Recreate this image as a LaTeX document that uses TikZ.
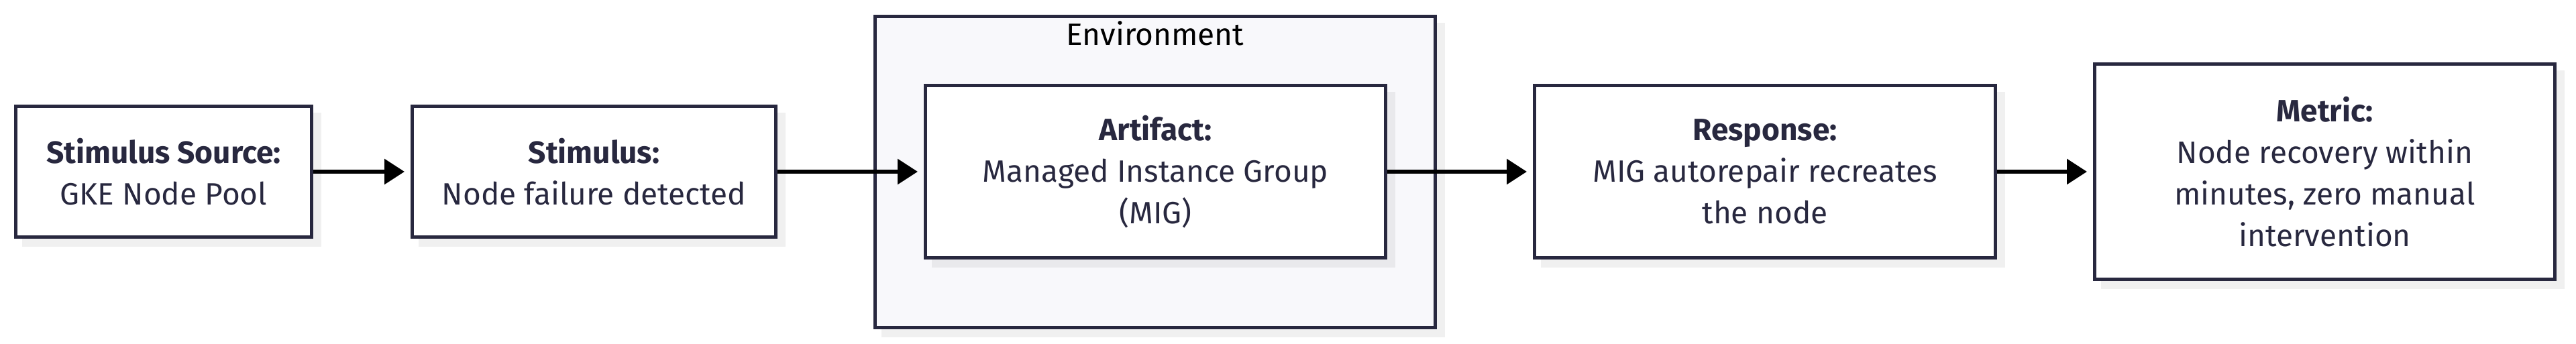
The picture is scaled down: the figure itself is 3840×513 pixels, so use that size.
\documentclass[tikz,border=0pt]{standalone}
\usepackage{fontspec}
\setmainfont{Fira Sans}
\usetikzlibrary{arrows.meta}
\definecolor{boxline}{HTML}{28283F}
\definecolor{boxtext}{HTML}{28283F}
\definecolor{envfill}{HTML}{F8F8FB}
\definecolor{shadowout}{HTML}{F0F0F0}
\definecolor{shadowin}{HTML}{E9E9EC}
\pgfdeclarelayer{shadowA}
\pgfdeclarelayer{envL}
\pgfdeclarelayer{shadowB}
\pgfsetlayers{shadowA,envL,shadowB,main}
\tikzset{
  qbox/.style={rectangle, draw=boxline, line width=1.25pt, fill=white, text=boxtext,
    align=center, inner sep=0pt, outer sep=0.625pt,
    font=\fontsize{11.5pt}{15.5pt}\selectfont},
  envbox/.style={qbox, fill=envfill},
  envlabel/.style={inner sep=0pt, text=black, font=\fontsize{11.5pt}{15.5pt}\selectfont},
  flow/.style={draw=black, line width=1.5pt, -{Triangle[length=7.5pt,width=9.25pt]}, shorten >=2.25pt},
  shout/.style={fill=shadowout},
  shin/.style={fill=shadowin}
}
\begin{document}
\begin{tikzpicture}[x=0.25pt,y=-0.25pt]
\useasboundingbox (0,0) rectangle (3840,513);
% environment container
\begin{pgfonlayer}{envL}
\node[envbox, minimum width=208.75pt, minimum height=116pt] (env) at (1722,256.5) {};
\end{pgfonlayer}
\node[envlabel, anchor=base] (envlbl) at (1722,68) {Environment};
% boxes
\node[qbox, minimum width=110.25pt, minimum height=48.75pt] (src) at (244,256)
  {\textbf{Stimulus Source:}\\GKE Node Pool};
\node[qbox, minimum width=135.5pt, minimum height=48.75pt] (stim) at (885.5,256)
  {\textbf{Stimulus:}\\Node failure detected};
\node[qbox, minimum width=171.5pt, minimum height=64pt] (art) at (1722.5,256)
  {\textbf{Artifact:}\\Managed Instance Group\\(MIG)};
\node[qbox, minimum width=171.75pt, minimum height=64pt] (resp) at (2631,256)
  {\textbf{Response:}\\MIG autorepair recreates\\the node};
\node[qbox, minimum width=171.5pt, minimum height=80pt] (met) at (3465.5,256)
  {\textbf{Metric:}\\Node recovery within\\minutes, zero manual\\intervention};
% shadows
\begin{pgfonlayer}{shadowA}
\fill[shout] ([shift={(12,12)}]env.north west) rectangle ([shift={(12,12)}]env.south east);
\end{pgfonlayer}
\begin{pgfonlayer}{shadowB}
\fill[shout] ([shift={(12,12)}]src.north west) rectangle ([shift={(12,12)}]src.south east);
\fill[shout] ([shift={(12,12)}]stim.north west) rectangle ([shift={(12,12)}]stim.south east);
\fill[shin] ([shift={(12,12)}]art.north west) rectangle ([shift={(12,12)}]art.south east);
\fill[shout] ([shift={(12,12)}]resp.north west) rectangle ([shift={(12,12)}]resp.south east);
\fill[shout] ([shift={(12,12)}]met.north west) rectangle ([shift={(12,12)}]met.south east);
\end{pgfonlayer}
% connectors
\draw[flow] (src.east) -- (stim.west);
\draw[flow] (stim.east) -- (art.west);
\draw[flow] (art.east) -- (resp.west);
\draw[flow] (resp.east) -- (met.west);
\end{tikzpicture}
\end{document}
